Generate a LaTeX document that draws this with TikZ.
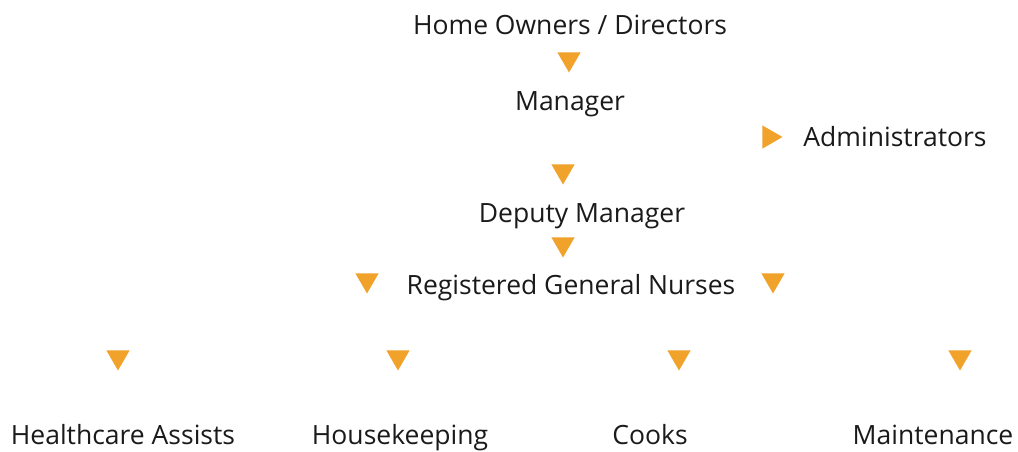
\documentclass[tikz,border=0pt]{standalone}
\usepackage{fontspec}
\setmainfont{Open Sans}
\usetikzlibrary{shapes.geometric}
\definecolor{tri}{HTML}{F0A22B}
\definecolor{ink}{HTML}{1A1A1A}

\begin{document}
\begin{tikzpicture}[x=1pt,y=-1pt,
  role/.style={anchor=base,inner sep=0pt,text=ink,font=\fontsize{26.5}{30}\selectfont},
  down/.style={regular polygon,regular polygon sides=3,shape border rotate=180,
               fill=tri,minimum size=27pt,inner sep=0pt,outer sep=0pt},
  right/.style={down,shape border rotate=-90}]
  \useasboundingbox (0,0) rectangle (1018,451);
  \node[role] (own) at (570, 34) {Home Owners / Directors};
  \node[role] (mgr) at (570,110) {Manager};
  \node[role] (adm) at (895,146) {Administrators};
  \node[role] (dep) at (582,222) {Deputy Manager};
  \node[role] (rgn) at (571,294) {Registered General Nurses};
  \node[role] (hca) at (123,444) {Healthcare Assists};
  \node[role] (hsk) at (400,444) {Housekeeping};
  \node[role] (ck ) at (650,444) {Cooks};
  \node[role] (mnt) at (933,444) {Maintenance};
  \node[down] (t1) at (569, 59) {};
  \node[right] (t2) at (769,137) {};
  \node[down] (t3) at (563,171) {};
  \node[down] (t4) at (563,244) {};
  \node[down] (t5) at (367,280) {};
  \node[down] (t6) at (773,280) {};
  \node[down] (t7) at (118,357) {};
  \node[down] (t8) at (398,357) {};
  \node[down] (t9) at (679,357) {};
  \node[down] (t10) at (960,357) {};
\end{tikzpicture}
\end{document}
